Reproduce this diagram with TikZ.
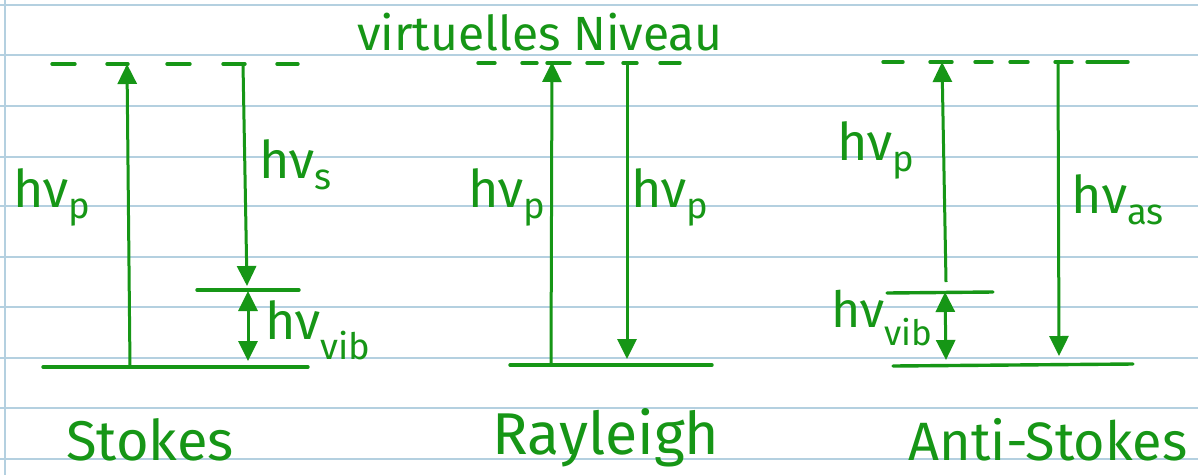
\documentclass[tikz,border=0pt]{standalone}
\usepackage{fontspec}
\setmainfont{Fira Sans}
\usetikzlibrary{arrows.meta}
\definecolor{ink}{RGB}{22,150,22}
\definecolor{paperrule}{RGB}{180,208,224}
\begin{document}
\begin{tikzpicture}[x=1pt,y=-1pt,
  ruling/.style={paperrule, line width=2pt},
  lvl/.style={ink, line width=3.4pt, line cap=round},
  arr/.style={ink, line width=3pt, -{Triangle[length=20pt,width=19pt]}},
  darr/.style={ink, line width=3pt, {Triangle[length=20pt,width=19pt]}-{Triangle[length=20pt,width=19pt]}},
  lab/.style={text=ink, font=\fontsize{52}{52}\selectfont, inner sep=0pt},
  big/.style={text=ink, font=\fontsize{56}{56}\selectfont, inner sep=0pt},
  ttl/.style={text=ink, font=\fontsize{48}{48}\selectfont, inner sep=0pt}
]
\useasboundingbox (0,0) rectangle (1198,475);
\fill[white] (0,0) rectangle (1198,475);
% lined paper
\foreach \yy in {5,55,106,157,206,257,307,358,408,459}
  \draw[ruling] (0,\yy) -- (1198,\yy);
\draw[ruling] (5,0) -- (5,475);

% title
\node[ttl] (title) at (540,32) {virtuelles Niveau};

% ---------------- Stokes ----------------
\draw[lvl] (52,64) -- (75,64) (107,64) -- (128,64) (167,64) -- (190,64)
           (223,64) -- (245,64) (277,64) -- (298,64);
\draw[lvl] (43,367) -- (308,367);
\draw[lvl] (197,290) -- (299,290);
\coordinate (S-up-b) at (130,367);
\coordinate (S-up-t) at (127,64);
\coordinate (S-dn-t) at (243,64);
\coordinate (S-dn-b) at (247,286);
\coordinate (S-vb-t) at (248,291);
\coordinate (S-vb-b) at (248,361);
\draw[arr] (S-up-b) -- (S-up-t);
\draw[arr] (S-dn-t) -- (S-dn-b);
\draw[darr] (S-vb-b) -- (S-vb-t);
\node[lab] (S-p) at (52,197) {hν\textsubscript{p}};
\node[lab] (S-s) at (296,165) {hν\textsubscript{s}};
\node[lab] (S-v) at (318,330) {hν\textsubscript{vib}};
\node[big] (S-name) at (150,440) {Stokes};

% ---------------- Rayleigh ----------------
\draw[lvl] (478,63) -- (495,63) (522,63) -- (537,63) (547,63) -- (570,63)
           (587,63) -- (603,63) (623,63) -- (637,63) (660,63) -- (680,63);
\draw[lvl] (510,365) -- (712,365);
\coordinate (R-up-b) at (551,365);
\coordinate (R-up-t) at (552,62);
\coordinate (R-dn-t) at (627,64);
\coordinate (R-dn-b) at (627,359);
\draw[arr] (R-up-b) -- (R-up-t);
\draw[arr] (R-dn-t) -- (R-dn-b);
\node[lab] (R-p1) at (507,197) {hν\textsubscript{p}};
\node[lab] (R-p2) at (670,197) {hν\textsubscript{p}};
\node[big, font=\fontsize{59}{59}\selectfont] (R-name) at (606,438) {Rayleigh};

% ---------------- Anti-Stokes ----------------
\draw[lvl] (883,62) -- (903,62) (930,62) -- (952,62) (975,62) -- (992,62)
           (1010,62) -- (1028,62) (1055,62) -- (1072,62) (1087,62) -- (1128,62);
\draw[lvl] (893,366) -- (1133,364);
\draw[lvl] (887,293) -- (993,292);
\coordinate (A-up-b) at (946,282);
\coordinate (A-up-t) at (942,62);
\coordinate (A-vb-t) at (945,292);
\coordinate (A-vb-b) at (946,360);
\coordinate (A-dn-t) at (1058,62);
\coordinate (A-dn-b) at (1059,356);
\draw[arr] (A-up-b) -- (A-up-t);
\draw[darr] (A-vb-b) -- (A-vb-t);
\draw[arr] (A-dn-t) -- (A-dn-b);
\node[lab] (A-p) at (876,150) {hν\textsubscript{p}};
\node[lab] (A-as) at (1118,200) {hν\textsubscript{as}};
\node[lab, font=\fontsize{50}{50}\selectfont] (A-v) at (882,318) {hν\textsubscript{vib}};
\node[big, font=\fontsize{54}{54}\selectfont] (A-name) at (1048,440) {Anti-Stokes};
\end{tikzpicture}
\end{document}
